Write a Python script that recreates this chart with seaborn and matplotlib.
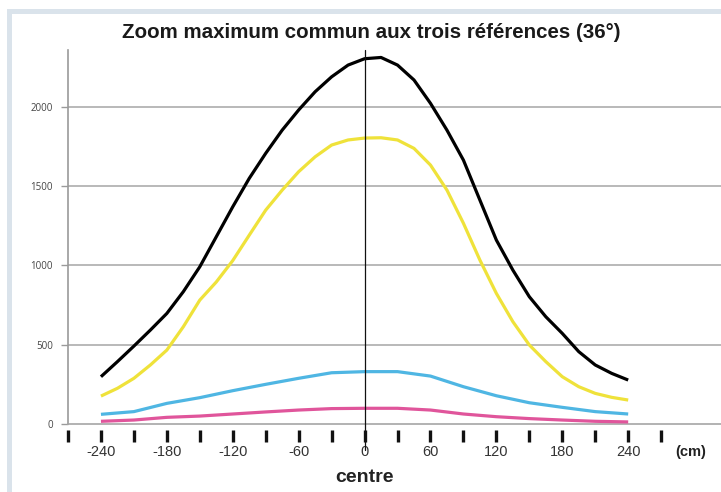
import matplotlib
matplotlib.use("Agg")
import matplotlib.pyplot as plt
import seaborn as sns
import pandas as pd
from matplotlib.patches import Rectangle

# ---- data ----
positions_fine = [-240, -225, -210, -195, -180, -165, -150, -135, -120, -105, -90, -75, -60, -45,
                  -30, -15, 0, 15, 30, 45, 60, 75, 90, 105, 120, 135, 150, 165, 180, 195, 210, 225, 240]
black_vals = [298, 393, 491, 592, 697, 834, 991, 1180, 1369, 1548, 1706, 1852, 1979, 2094,
              2188, 2262, 2302, 2310, 2262, 2168, 2021, 1852, 1663, 1411, 1159, 970, 802, 676,
              571, 456, 372, 319, 277]
yellow_vals = [176, 225, 288, 372, 466, 613, 781, 895, 1030, 1190, 1348, 1474, 1590, 1684,
               1758, 1790, 1802, 1804, 1790, 1737, 1632, 1474, 1265, 1033, 823, 645, 498, 393,
               298, 235, 193, 168, 151]
positions_coarse = [-240, -210, -180, -150, -120, -90, -60, -30, 0, 30, 60, 90, 120, 150, 180, 210, 240]
blue_vals = [61, 78, 130, 166, 210, 250, 288, 323, 330, 330, 302, 235, 178, 134, 105, 78, 63]
pink_vals = [17, 25, 42, 50, 63, 76, 88, 97, 99, 99, 88, 63, 46, 34, 25, 17, 13]
series_names = ["noir", "jaune", "bleu", "rose"]
series_colors = ["#000000", "#efe23a", "#4fb6e3", "#e0559b"]
ytick_values = [0, 500, 1000, 1500, 2000]
xtick_values = [-270, -240, -210, -180, -150, -120, -90, -60, -30, 0, 30, 60, 90, 120, 150, 180, 210, 240, 270]
xlabel_values = [-240, -180, -120, -60, 0, 60, 120, 180, 240]

frames = [
    pd.DataFrame({"pos": positions_fine, "val": black_vals, "serie": "noir"}),
    pd.DataFrame({"pos": positions_fine, "val": yellow_vals, "serie": "jaune"}),
    pd.DataFrame({"pos": positions_coarse, "val": blue_vals, "serie": "bleu"}),
    pd.DataFrame({"pos": positions_coarse, "val": pink_vals, "serie": "rose"}),
]
df = pd.concat(frames, ignore_index=True)

sns.set_style("white")
plt.rcParams["font.family"] = ["Liberation Sans", "DejaVu Sans"]

W, H = 721, 492
fig = plt.figure(figsize=(W / 100, H / 100), dpi=100)
fig.patch.set_facecolor("white")

# light frame
border = "#dae3eb"
fig.patches.append(Rectangle((7 / W, 0), 5 / W, 1 - 9 / H, transform=fig.transFigure,
                             facecolor=border, edgecolor="none", zorder=0))
fig.patches.append(Rectangle((7 / W, 1 - 13.5 / H), 1 - 7 / W, 4.5 / H, transform=fig.transFigure,
                             facecolor=border, edgecolor="none", zorder=0))

left, right, bottom, top = 68 / W, 1.0, 1 - 424 / H, 1 - 50 / H
ax = fig.add_axes([left, bottom, right - left, top - bottom])
ax.set_facecolor("none")

ax.set_xlim(-270, 324.5)
ax.set_ylim(0, 2357)

for v in ytick_values[1:]:
    ax.axhline(v, color="#a6a6a6", lw=1.1, zorder=1)

sns.lineplot(data=df, x="pos", y="val", hue="serie", palette=series_colors,
             hue_order=series_names, linewidth=2.3, legend=False, ax=ax, zorder=3,
             sort=True)
for line in ax.lines:
    line.set_solid_capstyle("butt")
    line.set_solid_joinstyle("round")

# center line
ax.axvline(0, ymin=-0.07, ymax=1.0, color="#111111", lw=0.9, zorder=4, clip_on=False)

for s in ["top", "right"]:
    ax.spines[s].set_visible(False)
ax.spines["left"].set_color("#9a9a9a")
ax.spines["left"].set_linewidth(1.2)
ax.spines["bottom"].set_color("#a6a6a6")
ax.spines["bottom"].set_linewidth(1.2)

ax.set_yticks(ytick_values)
ax.set_yticklabels([str(v) for v in ytick_values], fontsize=7, color="#444444",
                   family=["Open Sans", "DejaVu Sans"])
ax.tick_params(axis="y", length=5, width=1, color="#9a9a9a", pad=6, left=True)

ax.set_xticks(xtick_values)
ax.set_xticklabels([])
ax.tick_params(axis="x", length=0, bottom=False)
# thick tick marks below the axis
trans = ax.get_xaxis_transform()
for xv in xtick_values:
    ax.plot([xv, xv], [-6 / 374, -18 / 374], transform=trans, color="#111111",
            lw=2.4, clip_on=False, solid_capstyle="butt", zorder=5)
for xv in xlabel_values:
    ax.text(xv, -28 / 374, str(xv), transform=trans, ha="center", va="center",
            fontsize=10.5, color="#333333")
ax.text(297, -28 / 374, "(cm)", transform=trans, ha="center", va="center",
        fontsize=10.5, fontweight="bold", color="#222222")
ax.text(0, -54 / 374, "centre", transform=trans, ha="center", va="center",
        fontsize=14, fontweight="bold", color="#222222")

ax.set_xlabel("")
ax.set_ylabel("")

fig.text(371 / W, 1 - 32 / H, "Zoom maximum commun aux trois références (36°)",
         ha="center", va="center", fontsize=14.8, fontweight="bold", color="#1a1a1a")

fig.savefig("out.png", dpi=100)
